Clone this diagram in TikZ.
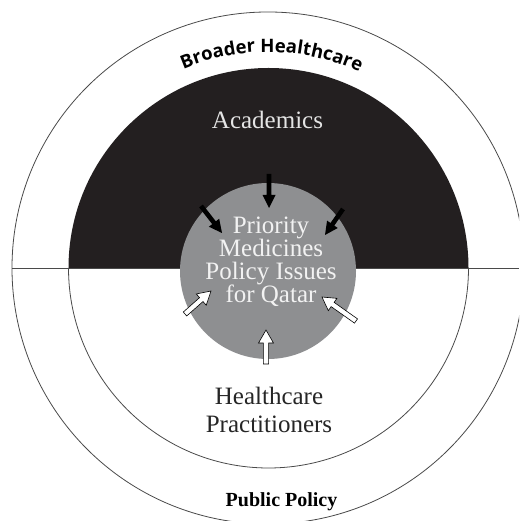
\documentclass[tikz,border=0pt]{standalone}
\usepackage{fontspec}
\setmainfont{Liberation Serif}
\newfontfamily\bhfont{Open Sans}
\usetikzlibrary{calc,decorations.text}
\definecolor{darkzone}{HTML}{231F20}
\definecolor{corefill}{HTML}{8E8F91}
\definecolor{ringline}{HTML}{4A4A4A}
\tikzset{
  ring/.style={draw=ringline, line width=0.8pt},
  blackarrow/.style={fill=black},
  whitearrow/.style={fill=white, draw=black, line width=0.6pt, line join=miter},
}
% #1 style, #2 prefix, #3 tail, #4 tip, #5 shaft half width, #6 head half width, #7 head length
\newcommand\fatarrow[7]{%
  \coordinate (#2neck) at ($(#4)!#7!(#3)$);
  \path[#1] ($(#3)!#5!90:(#4)$) -- ($(#2neck)!#5!90:(#4)$) -- ($(#2neck)!#6!90:(#4)$)
     -- (#4) -- ($(#2neck)!#6!-90:(#4)$) -- ($(#2neck)!#5!-90:(#4)$)
     -- ($(#3)!#5!-90:(#4)$) -- cycle;}
\begin{document}
\begin{tikzpicture}[x=1pt,y=1pt]
\useasboundingbox (0,0) rectangle (519,521);
\clip (0,0) rectangle (519,521);
\fill[white] (0,0) rectangle (519,521);
% outer circle
\coordinate (ctr) at (268,253);
\draw[ring] (ctr) circle[radius=256];
% dividing line
\draw[ring] (12,253) -- (519,253);
% inner circle halves
\fill[darkzone] (68.5,253) arc[start angle=180,end angle=0,radius=200] -- cycle;
\draw[ring] (68.5,253) arc[start angle=180,end angle=360,radius=200];
% core
\node[circle, fill=corefill, minimum size=176pt, inner sep=0pt] (core) at (268,250) {};
% arrows
\coordinate (bt1) at (269,347); \coordinate (bt2) at (269,313);
\coordinate (bl1) at (201,315); \coordinate (bl2) at (222,288);
\coordinate (br1) at (343,312); \coordinate (br2) at (325,286);
\coordinate (wl1) at (185,207); \coordinate (wl2) at (211,230);
\coordinate (wr1) at (356,200); \coordinate (wr2) at (322,224);
\coordinate (wb1) at (266,157); \coordinate (wb2) at (266,191);
\fatarrow{blackarrow}{bt}{bt1}{bt2}{2.3pt}{6.5pt}{13pt}
\fatarrow{blackarrow}{bl}{bl1}{bl2}{2.3pt}{6.5pt}{13pt}
\fatarrow{blackarrow}{br}{br1}{br2}{2.3pt}{6.5pt}{13pt}
\fatarrow{whitearrow}{wl}{wl1}{wl2}{2.6pt}{7.5pt}{13pt}
\fatarrow{whitearrow}{wr}{wr1}{wr2}{2.6pt}{7.5pt}{13pt}
\fatarrow{whitearrow}{wb}{wb1}{wb2}{2.6pt}{7.5pt}{13pt}
% texts
\node[anchor=base, text=white!90!black, font=\fontsize{25}{25}\selectfont, inner sep=0pt] (acad) at (267.5,392) {Academics};
\node[anchor=base, align=center, text=white!95!black, font=\fontsize{25}{23}\selectfont, inner sep=0pt] (issues) at (271,218)
  {Priority\\Medicines\\Policy Issues\\for Qatar};
\node[anchor=base, align=center, text=black!85, font=\fontsize{25}{28}\selectfont, inner sep=0pt] (hcp) at (269,88)
  {Healthcare\\Practitioners};
\node[anchor=base, font=\fontsize{20}{20}\selectfont\bfseries, inner sep=0pt] (pp) at (281.5,14) {Public Policy};
\path[decorate, decoration={text along path, text align=center,
   text={|\bhfont\bfseries\fontsize{18.5}{18.5}\selectfont|Broader Healthcare}}]
   ($(ctr)+(179:216)$) arc[start angle=179,end angle=-1,radius=216];
\end{tikzpicture}
\end{document}
